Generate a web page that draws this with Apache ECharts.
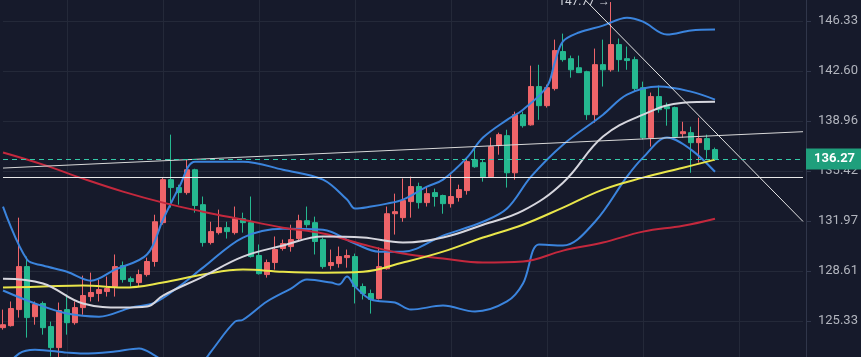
<!DOCTYPE html>
<html><head><meta charset="utf-8">
<script src="https://cdn.jsdelivr.net/npm/echarts@6/dist/echarts.min.js"></script>
<style>html,body{margin:0;padding:0;background:#161a2b;overflow:hidden;width:861px;height:357px;}
#c{position:absolute;left:0;top:-29px;width:861px;height:400px;}</style>
</head><body><div id="c"></div>
<script>
// ---- tick labels (right price scale, log-spaced) ----
const yTicks = [125.33, 128.61, 131.97, 135.42, 138.96, 142.60, 146.33];

// ---- candles (index 0..89) ----
const opens  = [124.90,125.03,126.07,128.90,125.61,126.47,124.97,123.62,126.07,125.22,
  126.20,126.92,127.12,127.25,127.58,128.97,128.10,127.84,128.37,129.24,
  131.86,134.82,134.27,133.92,135.51,133.09,130.51,131.18,131.52,131.18,
  132.13,131.86,129.64,128.37,129.17,130.11,130.24,130.78,131.99,131.86,
  130.71,128.97,129.10,129.50,129.57,127.58,127.12,126.79,128.76,132.47,
  132.20,133.30,134.34,133.23,133.92,133.72,133.16,133.58,134.06,136.22,
  136.01,135.03,137.21,137.92,135.30,139.42,138.69,141.46,140.07,141.31,
  144.04,143.51,142.84,142.55,139.42,143.07,142.69,144.56,143.51,143.44,
  141.38,137.78,140.73,140.00,139.93,138.06,138.13,137.42,137.71,136.93];
const highs  = [126.07,126.60,132.20,129.57,126.60,126.60,125.29,126.53,127.06,126.60,
  128.30,128.50,128.04,128.24,129.71,129.24,128.24,128.70,129.50,132.40,
  134.96,137.99,134.47,136.22,135.58,133.65,131.92,132.75,131.92,132.96,
  132.54,133.65,130.38,129.37,130.92,130.71,131.72,132.40,132.96,132.27,
  130.85,130.04,130.24,130.04,129.77,127.78,127.38,130.18,132.96,133.85,
  134.90,135.03,134.61,134.34,134.20,133.78,135.17,134.47,136.22,137.14,
  136.22,137.78,138.13,138.34,139.64,139.64,142.99,143.06,141.60,144.93,
  145.38,143.74,143.74,142.62,144.26,144.93,147.77,145.01,144.41,143.66,
  141.82,141.02,141.53,140.29,140.00,138.91,138.56,139.20,137.99,137.07];
const lows   = [124.77,124.97,125.55,124.26,125.09,124.45,123.05,122.99,124.45,125.09,
  125.74,126.60,126.60,126.92,126.92,127.84,127.58,127.58,128.24,128.90,
  131.72,132.89,133.09,133.78,132.54,130.24,130.38,131.05,130.78,131.05,
  131.18,129.50,128.37,128.17,128.70,129.97,129.90,130.65,131.52,129.71,
  128.76,128.70,128.83,128.83,126.47,126.73,125.81,126.73,128.70,131.05,
  131.92,132.20,132.82,132.96,132.96,132.47,132.89,133.30,133.78,135.65,
  134.68,134.96,136.57,134.27,134.82,138.49,138.63,139.05,139.93,141.17,
  143.29,142.11,142.45,139.05,138.84,141.46,142.55,142.55,142.69,141.09,
  137.64,137.14,139.56,138.63,137.78,137.78,135.30,136.01,136.29,136.15];
const closes = [125.09,126.14,128.90,125.55,126.40,124.90,123.62,126.01,125.22,126.20,
  126.99,127.19,127.38,127.45,128.90,128.04,127.91,128.37,129.24,131.92,
  134.82,134.27,133.92,135.51,133.03,130.51,131.25,131.52,131.25,132.13,
  131.86,129.57,128.43,129.17,130.04,130.44,130.71,131.99,131.72,130.58,
  128.90,129.17,129.57,129.64,127.58,127.12,126.73,128.90,132.47,132.61,
  133.37,134.34,133.23,133.85,133.65,133.16,133.65,134.13,136.08,135.72,
  135.03,137.14,137.99,135.30,139.42,138.63,141.46,140.07,141.38,144.11,
  143.44,142.69,142.48,139.42,143.07,142.69,144.56,143.44,143.37,141.31,
  137.78,140.73,139.78,139.85,137.85,138.20,137.42,137.71,136.93,136.27];

// ---- indicator lines: candle index + read value ----
const redIdx  = [0,5,10,15,20,25,30,35,40,45,50,55,60,65,70,75,80,85,89];
const redVal  = [136.72,135.87,134.89,133.99,133.23,132.61,132.06,131.52,131.12,130.38,129.77,129.44,129.17,129.24,129.97,130.51,131.25,131.65,132.13];
const yelIdx  = [0,5,10,15,20,25,30,35,40,45,50,55,60,65,70,75,80,85,89];
const yelVal  = [127.51,127.58,127.65,127.51,127.84,128.37,128.70,128.56,128.50,128.56,129.17,129.90,130.85,131.72,132.89,134.13,134.96,135.65,136.22];
const whtIdx  = [0,5,10,15,18,20,25,30,35,40,45,50,55,60,65,70,75,80,85,89];
const whtVal  = [128.10,127.78,126.47,126.20,126.27,126.99,128.24,129.57,130.31,130.92,130.85,130.51,130.85,131.72,132.68,134.61,137.85,139.42,140.29,140.36];
const upIdx   = [0,3,5,8,11,14,18,20,22,24,27,30,35,40,43,44,46,48,50,53,55,58,60,63,65,68,69,70,72,75,78,80,83,86,89];
const upVal   = [132.96,129.37,128.97,128.56,127.97,128.70,129.71,132.06,134.27,136.08,136.08,136.08,135.51,134.82,133.44,132.82,132.96,133.16,133.44,134.34,134.82,136.36,137.78,139.05,139.78,141.46,143.29,144.79,145.46,145.98,146.58,146.28,145.31,145.61,145.68];
const midIdx  = [0,4,8,12,16,19,22,25,30,35,40,44,47,50,55,60,63,66,70,75,78,82,86,89];
const midVal  = [127.32,126.47,125.81,125.61,126.20,126.53,127.58,128.83,130.85,131.45,131.38,130.44,129.90,129.90,130.98,131.92,132.82,135.03,137.28,139.42,140.87,141.46,141.09,140.51];
const lowIdx  = [0,2,4,8,10,14,17,19,21,23,25,26,29,30,33,36,38,41,42,43,44,46,49,51,55,59,63,65,67,70,74,78,80,83,86,89];
const lowVal  = [122.09,123.24,123.49,123.30,123.24,123.37,123.56,123.11,122.47,122.21,122.73,123.37,125.29,125.41,126.60,127.45,128.04,127.84,127.71,128.24,127.58,126.73,126.53,126.07,126.33,125.94,126.60,127.78,130.38,130.31,131.92,135.03,136.36,137.78,136.93,135.37];

// ---- drawn levels / trendlines ----
const hLevel = 135.01;
const riseLine = [[0, 135.63], [100, 138.20]];
const fallLine = [[72, 148.41], [100, 131.94]];
const lastPrice = 136.27;
const highMark = {idx: 76, price: 147.77, text: '147.77 \u2192'};
const nSlots = 101;

const base = yTicks[0];
const lnStep = Math.log(yTicks[yTicks.length-1] / yTicks[0]) / (yTicks.length - 1);
const T = p => Math.log(p / base) / lnStep;

const cats = Array.from({length: nSlots}, (_, i) => String(i));
const candleData = opens.map((o, i) => [T(o), T(closes[i]), T(lows[i]), T(highs[i])]);
const mk = (idx, val) => idx.map((k, i) => [k, T(val[i])]);

const RED = '#ee6469', GREEN = '#25b890', BLUE = '#3b84dd';

function lineSeries(data, color, width, smooth) {
  return {type: 'line', data, showSymbol: false, symbol: 'none', smooth: smooth,
    lineStyle: {color, width}, z: 3, silent: true, connectNulls: true};
}

const chart = echarts.init(document.getElementById('c'), null, {renderer: 'canvas'});
chart.setOption({
  animation: false,
  backgroundColor: '#161a2b',
  grid: {left: 3, right: 58, top: 0, bottom: 0, containLabel: false},
  xAxis: {
    type: 'category', data: cats, boundaryGap: false,
    axisLine: {show: false}, axisTick: {show: false}, axisLabel: {show: false},
    splitLine: {show: true, interval: (i) => i % 12 === 8, lineStyle: {color: '#242939', width: 1}}
  },
  yAxis: {
    type: 'value', position: 'right', offset: 3, min: -1, max: 7, interval: 1,
    axisLine: {show: true, lineStyle: {color: '#30364a'}},
    axisTick: {show: true, length: 5, lineStyle: {color: '#30364a'}},
    axisLabel: {color: '#b2b5be', fontSize: 13, fontFamily: 'Roboto', margin: 12,
      formatter: v => { const r = Math.round(v); return (Math.abs(v - r) < 1e-6 && r >= 0 && r < yTicks.length) ? yTicks[r].toFixed(2) : ''; }},
    splitLine: {show: true, lineStyle: {color: '#242939', width: 1}}
  },
  series: [
    {
      type: 'candlestick', data: candleData, barWidth: 5, z: 2,
      itemStyle: {color: RED, color0: GREEN, borderColor: RED, borderColor0: GREEN, borderWidth: 1},
      markPoint: {
        symbol: 'circle', symbolSize: 0, silent: true,
        data: [{coord: [String(highMark.idx), T(highMark.price)], value: highMark.text}],
        label: {show: true, position: 'left', distance: 1, color: '#d1d4dc', fontSize: 12, fontFamily: 'Roboto',
          formatter: () => highMark.text}
      }
    },
    lineSeries(mk(lowIdx, lowVal), BLUE, 2, 0.35),
    lineSeries(mk(midIdx, midVal), BLUE, 2, 0.35),
    lineSeries(mk(upIdx, upVal), BLUE, 2, 0.35),
    lineSeries(mk(redIdx, redVal), '#c4283d', 2, 0.4),
    lineSeries(mk(yelIdx, yelVal), '#e9e64a', 2, 0.4),
    lineSeries(mk(whtIdx, whtVal), '#d6d6de', 2, 0.4),
    {type: 'line', data: riseLine.map(p => [p[0], T(p[1])]), showSymbol: false, symbol: 'none',
      lineStyle: {color: '#d8d8d8', width: 1}, z: 4, silent: true},
    {type: 'line', data: fallLine.map(p => [p[0], T(p[1])]), showSymbol: false, symbol: 'none',
      lineStyle: {color: '#e6e6e6', width: 1}, z: 4, silent: true},
    {
      type: 'line', data: [], z: 5,
      markLine: {
        symbol: 'none', silent: true, animation: false,
        lineStyle: {color: '#34c9a8', width: 1, type: [5, 4]},
        data: [
          {yAxis: T(hLevel), lineStyle: {color: '#e8e8e8', width: 1, type: 'solid'}, label: {show: false}},
          {yAxis: T(lastPrice), lineStyle: {color: '#34c9a8', width: 1, type: [5, 4], opacity: 1},
            label: {show: true, position: 'end', distance: 3, formatter: lastPrice.toFixed(2),
              color: '#ffffff', fontWeight: 'bold', fontSize: 13, fontFamily: 'Roboto',
              backgroundColor: '#1f9f7c', padding: [4, 8, 4, 8]}}
        ]
      }
    }
  ]
});
</script></body></html>
